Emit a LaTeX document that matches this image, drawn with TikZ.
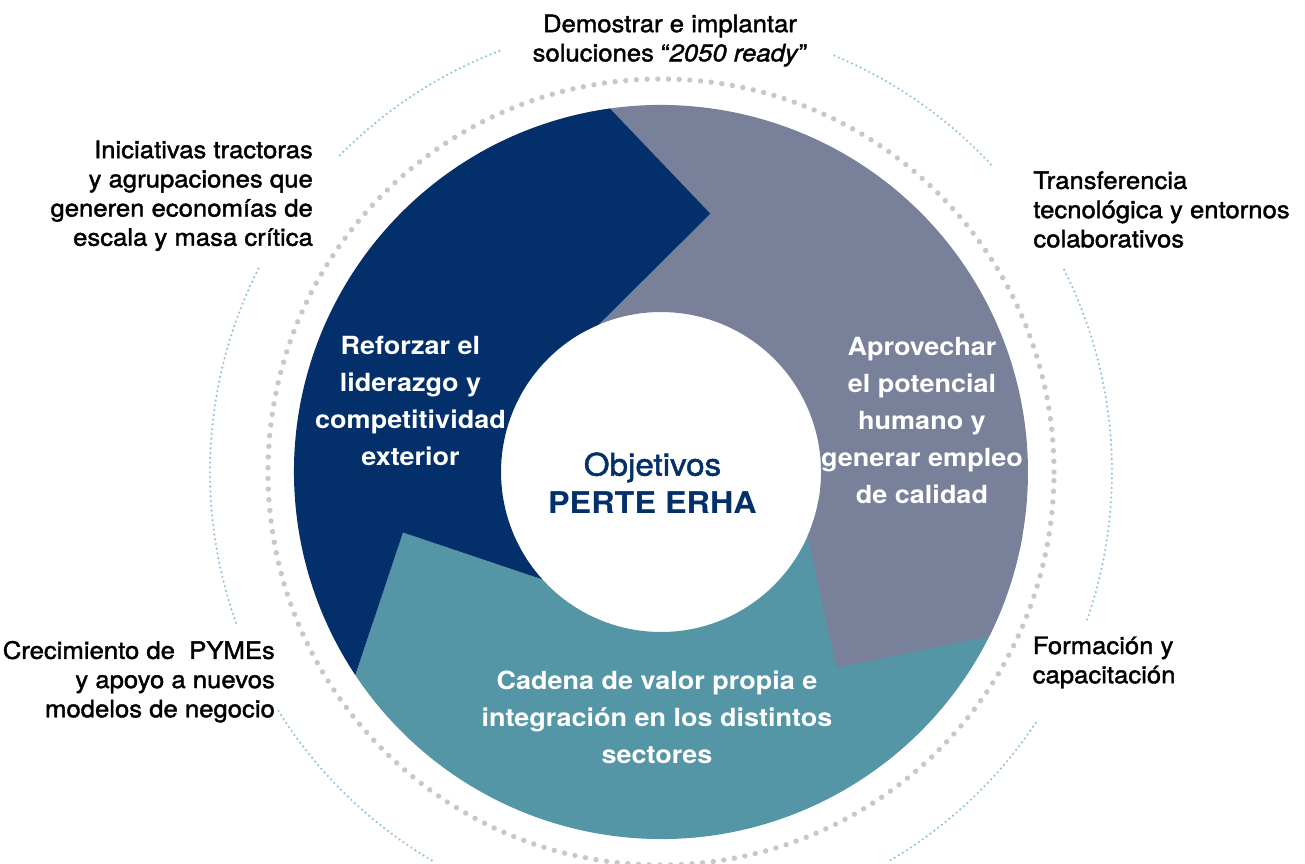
\documentclass[tikz,border=0pt]{standalone}
\usepackage{fontspec}
\setmainfont{TeX Gyre Heros}[FakeStretch=1.08]
\newfontfamily\leverfont{TeX Gyre Heros}[FakeStretch=1.07, FakeBold=1.6]
\usetikzlibrary{positioning}

\definecolor{erhablue}{HTML}{03306B}
\definecolor{erhagray}{HTML}{79819A}
\definecolor{erhateal}{HTML}{5495A6}
\definecolor{dotgray}{HTML}{C8C8C8}
\definecolor{dotblue}{HTML}{8DC2DB}

\begin{document}
\begin{tikzpicture}[x=0.5pt, y=0.5pt,
		goal/.style={align=center, text=white, inner sep=0, font=\fontsize{12.5}{18.5}\selectfont\bfseries},
		lever/.style={inner sep=0, font=\leverfont\fontsize{12}{14.6}\selectfont},
		ring dots/.style={draw=dotgray, line width=2.7pt, line cap=round, dash pattern=on 0pt off 5.35pt},
		halo/.style={draw=dotblue, line width=1.2pt, line cap=round, dash pattern=on 0pt off 2.4pt}]
		\useasboundingbox (-661, -391) rectangle (644, 472);

		% outer rings
		\draw[ring dots] (0, 0) circle[radius=393];
		\foreach \a/\b in {43/68, 111/136, 153.2/199.7, 212/239.6, -59.4/-33.3, -19.1/26.9}
			\draw[halo] (\a:451) arc[start angle=\a, end angle=\b, radius=451];

		% the three arrows of the cycle
		\fill[erhateal] (-10:367) arc[start angle=-10, end angle=-146.4, radius=367] -- (-166.8:265) -- (-137.8:160) arc[start angle=-137.8, end angle=-10, radius=160] -- cycle;
		\fill[erhagray] (120:367) arc[start angle=120, end angle=-26.6, radius=367] -- (-48.1:263) -- (-23.7:160) arc[start angle=-23.7, end angle=120, radius=160] -- cycle;
		\fill[erhablue] (98:367) arc[start angle=98, end angle=213.6, radius=367] -- (-166.8:265) -- (-137.8:160) arc[start angle=222.2, end angle=113, radius=160] -- (79.2:263) -- cycle;

		\node[circle, fill=white, minimum size=157.5pt, inner sep=0] (hub) at (0, 0) {};
		\node[align=center, text=erhablue, inner sep=0, font=\fontsize{15.5}{19}\selectfont] (core) at (-8.5, -11) {{\leverfont Objetivos}\\{\fontsize{15}{19}\selectfont\bfseries PERTE ERHA}};

		\node[goal] (lead) at (-250.5, 70.6) {Reforzar el\\liderazgo y\\competitividad\\exterior};
		\node[goal] (talent) at (261, 51.6) {Aprovechar\\el potencial\\humano y\\generar empleo\\de calidad};
		\node[goal] (chain) at (-4, -245.5) {Cadena de valor propia e\\integración en los distintos\\sectores};

		% levers around the ring
		\node[lever, align=center] (demo) at (9, 431.4) {Demostrar e implantar\\soluciones “\textit{2050 ready}”};
		\node[lever, align=right, anchor=east] (tract) at (-347.7, 276.2) {Iniciativas tractoras\\y agrupaciones que\\generen economías de\\escala y masa crítica};
		\node[lever, align=left, anchor=west] (transf) at (372, 262.5) {Transferencia\\tecnológica y entornos\\colaborativos};
		\node[lever, align=right, anchor=east] (pymes) at (-385.7, -209.7) {Crecimiento de~ PYMEs\\y apoyo a nuevos\\modelos de negocio};
		\node[lever, align=left, anchor=west] (form) at (371.3, -190.5) {Formación y\\capacitación};
	\end{tikzpicture}
\end{document}
